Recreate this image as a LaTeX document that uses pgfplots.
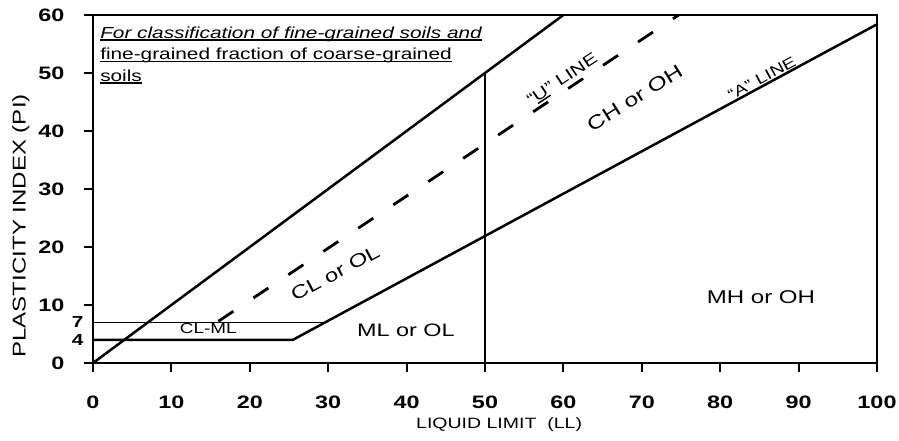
\documentclass[border=0pt]{standalone}
\usepackage{pgfplots}
\pgfplotsset{compat=1.18}
\usepackage{fontspec}
\setmainfont{Liberation Sans}[FakeStretch=1.3]
\newcommand\ul[1]{\leavevmode\setbox0=\hbox{#1}\rlap{\rule[-2.5pt]{\wd0}{1.5pt}}\box0}
\begin{document}
\begin{tikzpicture}
\path[use as bounding box] (-93pt,-78pt) rectangle (806pt,363pt);
\begin{axis}[
  at={(0,0)}, anchor=origin,
  x=7.84pt, y=5.8pt,
  xmin=0, xmax=100, ymin=0, ymax=60,
  axis line style={line width=2pt},
  xtick={0,10,...,100}, ytick={0,10,...,60},
  tick pos=left, tick align=outside,
  major tick length=9pt,
  tick style={line width=2pt, black},
  xticklabel style={yshift=-20pt},
  yticklabel style={xshift=-16pt},
  extra y ticks={4,7},
  extra y tick style={major tick length=0pt, yticklabel style={xshift=10pt, font=\fontsize{16}{18}\selectfont\bfseries}},
  ticklabel style={font=\fontsize{18}{20}\selectfont\bfseries},
  /pgf/number format/assume math mode=true,
  clip=false,
  xlabel={LIQUID LIMIT\ \ (LL)},
  xlabel style={at={(axis description cs:0.518,-0.178)}, anchor=center, font=\fontsize{15}{17}\selectfont},
  ylabel={PLASTICITY INDEX (PI)},
  ylabel style={at={(axis description cs:-0.092,0.394)}, anchor=center, rotate=0, font=\fontsize{18.5}{20}\selectfont},
]
% upper limit line PI = LL
\addplot[black, line width=2.5pt] coordinates {(0,0) (60,60)};
% LL = 50 boundary
\addplot[black, line width=2.3pt] coordinates {(50,0) (50,50)};
% PI = 7
\addplot[black, line width=1.5pt] coordinates {(0,7) (29.6,7)};
% PI = 4 then A-line
\addplot[black, line width=2.5pt] coordinates {(0,4) (25.5,4) (100,58.4)};
% U-line
\addplot[black, line width=2.8pt, dash pattern=on 18pt off 24pt, dash phase=0pt] coordinates {(16,7.2) (74.7,60)};

\node[anchor=north west, align=left, inner sep=0pt, font=\fontsize{16}{21.5}\selectfont] at (axis cs:0.9,58.0)
  {\ul{\itshape For classification of fine-grained soils and}\\ \ul{fine-grained fraction of coarse-grained}\\ \ul{soils}};
\node[font=\fontsize{14.5}{16}\selectfont] at (axis cs:14.7,6.0) {CL-ML};
\node[font=\fontsize{18}{20}\selectfont] at (axis cs:39.9,5.7) {ML or OL};
\node[font=\fontsize{18.5}{20}\selectfont] at (axis cs:85.2,11.4) {MH or OH};
\node[font=\fontsize{18.5}{20}\selectfont, rotate=28] at (axis cs:30.9,15.5) {CL or OL};
\node[font=\fontsize{19}{20}\selectfont, rotate=32] at (axis cs:69.1,45.7) {CH or OH};
\node[font=\fontsize{16}{18}\selectfont, rotate=33.7] at (axis cs:59.9,48.8) {``\ul{U}'' LINE};
\node[font=\fontsize{15}{17}\selectfont, rotate=28.4] at (axis cs:85.3,49.1) {``A'' LINE};
\end{axis}
\end{tikzpicture}
\end{document}
